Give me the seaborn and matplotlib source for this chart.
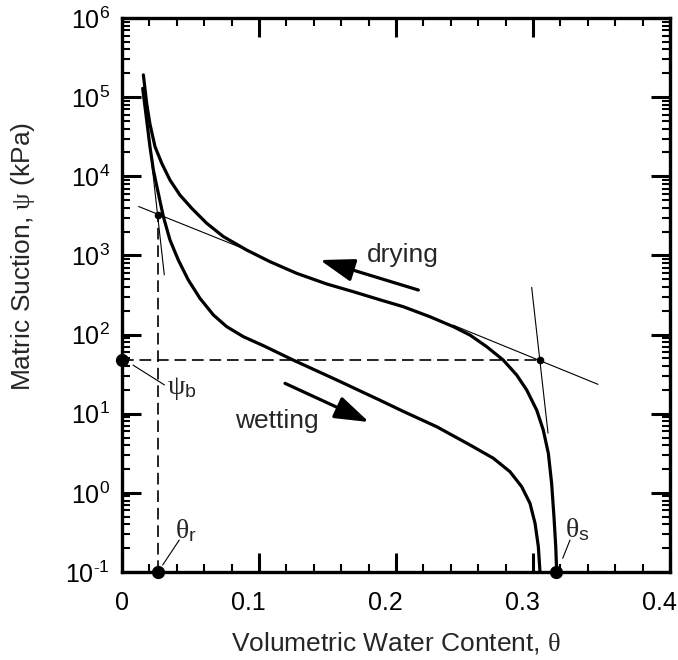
import numpy as np
import pandas as pd
import matplotlib
matplotlib.use("Agg")
import matplotlib.pyplot as plt
import matplotlib.transforms as mtransforms
from matplotlib.ticker import LogLocator, MultipleLocator, NullFormatter
import seaborn as sns

# ---------------- data ----------------
drying_theta = [0.0156, 0.0180, 0.0204, 0.0241, 0.0290, 0.0350, 0.0423, 0.0509, 0.0618,
                0.0740, 0.0910, 0.1080, 0.1275, 0.1494, 0.1689, 0.1883, 0.2053, 0.2248,
                0.2418, 0.2540, 0.2662, 0.2783, 0.2881, 0.2954, 0.3027, 0.3075, 0.3112,
                0.3136, 0.3153, 0.3166, 0.3173]
drying_psi = [1.91e5, 8.36e4, 4.57e4, 2.37e4, 1.46e4, 8.97e3, 5.79e3, 3.94e3, 2.55e3,
              1.73e3, 1.17e3, 834, 594, 436, 348, 275, 225, 168,
              126, 98.6, 70.3, 47.6, 30.8, 19.95, 11.1, 6.22, 3.16,
              1.32, 0.50, 0.209, 0.1]

wetting_theta = [0.0151, 0.0180, 0.0204, 0.0229, 0.0265, 0.0302, 0.0350, 0.0411, 0.0484,
                 0.0569, 0.0667, 0.0764, 0.0886, 0.1032, 0.1250, 0.1567, 0.1883, 0.2053,
                 0.2297, 0.2540, 0.2710, 0.2832, 0.2917, 0.2978, 0.3015, 0.3039, 0.3051]
wetting_psi = [1.29e5, 5.14e4, 2.37e4, 1.20e4, 6.10e3, 3.09e3, 1.57e3, 875, 489,
               287, 177, 126, 94.0, 72.4, 47.6, 26.7, 14.8, 10.7,
               6.85, 4.03, 2.74, 1.85, 1.20, 0.738, 0.412, 0.209, 0.1]

# construction lines (tangents)
tanA_theta = [0.0119, 0.091]
tanA_psi = [4169, 1175]
tanB_theta = [0.2416, 0.3477]
tanB_psi = [131.8, 23.4]
tanC_theta = [0.0204, 0.0309]
tanC_psi = [23659, 562]
tanD_theta = [0.299, 0.311]
tanD_psi = [398, 5.62]

# key points
air_entry = (0.305, 47.6)      # intersection giving psi_b
residual = (0.026, 3236)       # intersection giving theta_r
psi_b = 47.6
theta_r = 0.026
theta_s = 0.317
psi_min = 0.1

xticks = [0, 0.1, 0.2, 0.3, 0.4]
xtick_labels = ["0", "0.1", "0.2", "0.3", "0.4"]
yticks = [1e-1, 1e0, 1e1, 1e2, 1e3, 1e4, 1e5, 1e6]
ytick_labels = [r"$\mathdefault{10^{\text{-}1}}$", r"$\mathdefault{10^{0}}$",
                r"$\mathdefault{10^{1}}$", r"$\mathdefault{10^{2}}$",
                r"$\mathdefault{10^{3}}$", r"$\mathdefault{10^{4}}$",
                r"$\mathdefault{10^{5}}$", r"$\mathdefault{10^{6}}$"]

# ---------------- style ----------------
sns.set_theme(style="ticks")
plt.rcParams["font.family"] = ["Liberation Sans", "DejaVu Sans"]
plt.rcParams["mathtext.fontset"] = "custom"
plt.rcParams["mathtext.rm"] = "Liberation Serif"
plt.rcParams["mathtext.it"] = "Liberation Serif"
plt.rcParams["mathtext.sf"] = "Liberation Sans"
plt.rcParams["mathtext.default"] = "rm"

fig = plt.figure(figsize=(6.78, 6.60), dpi=100)
ax = fig.add_axes([122 / 678, 1 - 572 / 660, 548 / 678, 554 / 660])

df_dry = pd.DataFrame({"theta": drying_theta, "psi": drying_psi})
df_wet = pd.DataFrame({"theta": wetting_theta, "psi": wetting_psi})

sns.lineplot(data=df_dry, x="theta", y="psi", ax=ax, color="black", lw=2.3,
             sort=False, estimator=None, solid_joinstyle="round")
sns.lineplot(data=df_wet, x="theta", y="psi", ax=ax, color="black", lw=2.3,
             sort=False, estimator=None, solid_joinstyle="round")

thin = dict(color="black", lw=0.8, solid_capstyle="butt")
ax.plot(tanA_theta, tanA_psi, **thin)
ax.plot(tanB_theta, tanB_psi, **thin)
ax.plot(tanC_theta, tanC_psi, **thin)
ax.plot(tanD_theta, tanD_psi, **thin)

dash = dict(color="black", lw=1.2, dashes=(7, 3.5))
ax.plot([0, air_entry[0]], [psi_b, psi_b], **dash)
ax.plot([theta_r, theta_r], [psi_min, residual[1]], **dash)

ax.plot([air_entry[0], residual[0]], [air_entry[1], residual[1]], "o", color="black",
        ms=4.5, ls="none")
ax.plot([0, theta_r, theta_s], [psi_b, psi_min, psi_min], "o", color="black",
        ms=8.5, ls="none", clip_on=False, zorder=5)

# leaders
ax.plot([0.008, 0.031], [41.2, 23.1], color="black", lw=0.8)
ax.plot([0.0297, 0.0418], [0.1225, 0.2535], color="black", lw=0.8)
ax.plot([0.3217, 0.327], [0.149, 0.2535], color="black", lw=0.8)

ax.text(0.0328, 21.1, r"$\psi_{\mathsf{b}}$", fontsize=20, ha="left", va="center")
ax.text(0.0387, 0.33, r"$\theta_{\mathsf{r}}$", fontsize=20, ha="left", va="center")
ax.text(0.3234, 0.34, r"$\theta_{\mathsf{s}}$", fontsize=20, ha="left", va="center")

ax.text(0.1788, 833.7, "drying", fontsize=19, ha="left", va="baseline")
ax.text(0.0825, 6.59, "wetting", fontsize=19, ha="left", va="baseline")

arrow = dict(arrowstyle="-|>,head_length=1.5,head_width=0.5", mutation_scale=14,
             lw=2.3, color="black", shrinkA=0, shrinkB=0)
ax.annotate("", xy=(0.1445, 875), xytext=(0.2163, 365.6), arrowprops=arrow)
ax.annotate("", xy=(0.1803, 7.85), xytext=(0.119, 24.2), arrowprops=arrow)

# ---------------- axes ----------------
ax.set_yscale("log")
ax.set_xlim(0, 0.4)
ax.set_ylim(1e-1, 1e6)
ax.set_xticks(xticks, labels=xtick_labels)
ax.set_yticks(yticks, labels=ytick_labels)
ax.xaxis.set_minor_locator(MultipleLocator(0.02))
ax.yaxis.set_minor_locator(LogLocator(base=10, subs=np.arange(2, 10), numticks=20))
ax.yaxis.set_minor_formatter(NullFormatter())

for s in ax.spines.values():
    s.set_linewidth(2.4)
    s.set_color("black")
    s.set_visible(True)

ax.tick_params(which="both", direction="in", top=True, right=True, colors="black")
ax.tick_params(which="major", length=13.5, width=2.2)
ax.tick_params(which="minor", length=5.8, width=1.5)
ax.tick_params(axis="x", which="major", labelsize=18, pad=14)
ax.tick_params(axis="y", which="major", labelsize=18, pad=8.5)

ax.set_xlabel(r"Volumetric Water Content, $\theta$", fontsize=19)
ax.set_ylabel(r"Matric Suction, $\psi$ (kPa)", fontsize=19)
ax.xaxis.set_label_coords(0.5, -0.105)
ax.yaxis.set_label_coords(-0.155, 0.569)

offset = mtransforms.ScaledTranslation(0.07, 0, fig.dpi_scale_trans)
for lab in ax.get_xticklabels():
    lab.set_horizontalalignment("right")
    lab.set_transform(lab.get_transform() + offset)

fig.savefig("out.png", dpi=100, facecolor="white")
